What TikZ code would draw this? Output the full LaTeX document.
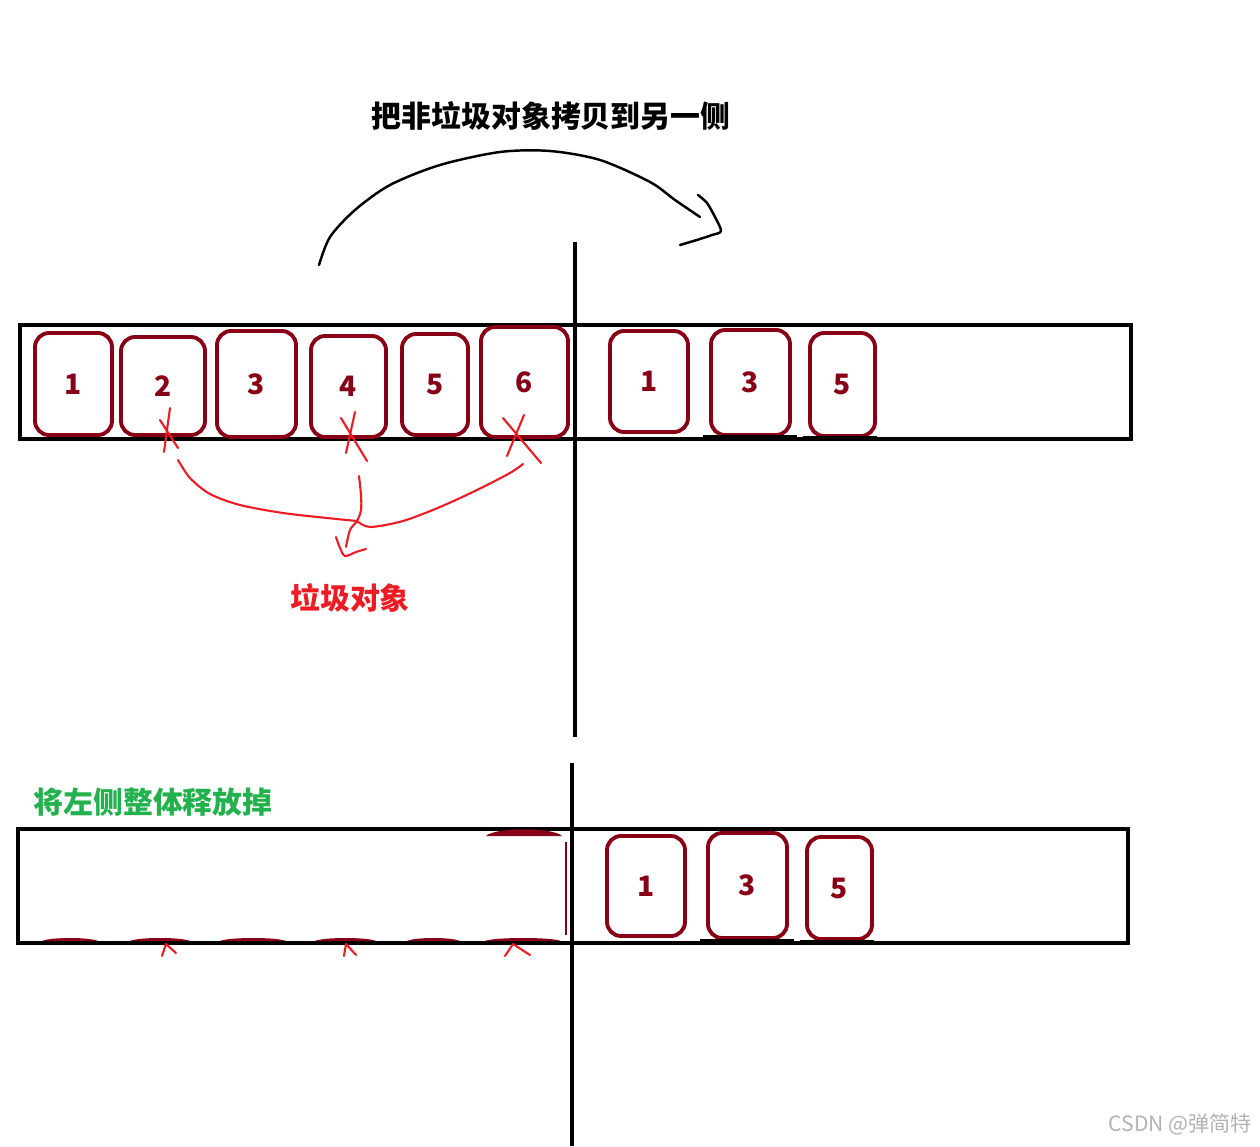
\documentclass[tikz,border=0pt]{standalone}
\usepackage{fontspec}
\newfontfamily\cjk{Noto Sans CJK SC}
\definecolor{paintred}{HTML}{ED1C24}
\definecolor{paintmaroon}{HTML}{880015}
\definecolor{paintgreen}{HTML}{22B14C}
\tikzset{
  objbox/.style={draw=paintmaroon, line width=2.2pt, rounded corners=8pt, inner sep=0pt,
    text=paintmaroon, font=\cjk\bfseries\fontsize{16}{18}\selectfont},
  heapline/.style={line width=2.5pt},
  inkline/.style={line width=1.4pt, line cap=round, line join=round},
  redink/.style={paintred, line width=1.2pt, line cap=round, line join=round},
}
\begin{document}
\begin{tikzpicture}[x=0.02cm,y=-0.02cm]
\useasboundingbox (0,0) rectangle (1260,1146);
% title and copy arrow
\node[font=\cjk\bfseries\fontsize{17}{20}\selectfont] (title) at (551,116) {把非垃圾对象拷贝到另一侧};
\coordinate (cfrom) at (319,265);
\coordinate (cto) at (700,217);
\draw[inkline] plot[smooth] coordinates {(cfrom) (330,237) (355,210) (390,185) (440,165) (500,152) (550,151) (600,160) (650,182) (675,200) (cto)};
\draw[inkline] plot[smooth] coordinates {(698,195) (707,203) (715,217) (721,231) (712,235) (700,239) (680,245)};
% heap before
\draw[heapline] (20,325) rectangle (1131,439);
\foreach \n/\xa/\ya/\xb/\yb in {1/35/333/112/435, 2/121/337/205/435, 3/217/331/296/437,
    4/311/336/386/437, 5/402/334/468/435, 6/481/327/568/437}
  \node[objbox, minimum width={(\xb-\xa)*0.02cm}, minimum height={(\yb-\ya)*0.02cm}]
    (b\n) at ({(\xa+\xb)/2},{(\ya+\yb)/2}) {\n};
\foreach \n/\xa/\ya/\xb/\yb in {1/610/331/688/432, 3/711/330/790/435, 5/810/333/875/436}
  \node[objbox, minimum width={(\xb-\xa)*0.02cm}, minimum height={(\yb-\ya)*0.02cm}]
    (r\n) at ({(\xa+\xb)/2},{(\ya+\yb)/2}) {\n};
\draw[line width=0.6pt] (703,436) -- (797,436);
\draw[line width=0.6pt] (803,437) -- (877,437);
% garbage marks
\draw[redink] (170,408) -- (164,452) (160,420) -- (178,448);
\draw[redink] (355,412) -- (346,453) (341,418) -- (367,461);
\draw[redink] (524,415) -- (507,456) (503,418) -- (541,463);
\coordinate (g2) at (178,460);
\coordinate (g4) at (359,476);
\coordinate (g6) at (523,464);
\coordinate (gm) at (357,521);
\draw[redink] plot[smooth] coordinates {(g2) (190,478) (210,494) (240,505) (283,513) (327,518) (gm)};
\draw[redink] plot[smooth] coordinates {(g6) (510,473) (477,490) (440,507) (403,521) (370,527) (gm)};
\draw[redink] plot[smooth] coordinates {(g4) (361,495) (361,510) (gm) (350,530) (346,547)};
\draw[redink] plot[smooth] coordinates {(336,537) (340,548) (345,556) (356,552) (366,549)};
\node[text=paintred, font=\cjk\bfseries\fontsize{17}{20}\selectfont] (garbage) at (350,598) {垃圾对象};
% heap after
\node[text=paintgreen, font=\cjk\bfseries\fontsize{17}{20}\selectfont] (release) at (153,802) {将左侧整体释放掉};
\draw[heapline] (18,829) rectangle (1128,943);
\foreach \xa/\xb in {42/98, 130/190, 220/286, 315/376, 407/460, 485/561}
  \fill[paintmaroon] (\xa,941) .. controls (\xa+8,937) and (\xb-8,937) .. (\xb,941) -- cycle;
\fill[paintmaroon] (486,836) .. controls (495,827) and (553,827) .. (562,836) -- cycle;
\draw[paintmaroon, line width=0.6pt] (566,842) -- (566,935);
\foreach \n/\xa/\ya/\xb/\yb in {1/607/836/685/936, 3/708/833/787/938, 5/807/837/872/939}
  \node[objbox, minimum width={(\xb-\xa)*0.02cm}, minimum height={(\yb-\ya)*0.02cm}]
    (s\n) at ({(\xa+\xb)/2},{(\ya+\yb)/2}) {\n};
\draw[line width=0.6pt] (700,940) -- (794,940);
\draw[line width=0.6pt] (800,941) -- (874,941);
\draw[redink] (162,956) -- (166,944) -- (176,953);
\draw[redink] (344,956) -- (346,944) -- (356,955);
\draw[redink] (505,956) -- (513,944) -- (530,955);
% divider
\draw[heapline] (575,242) -- (575,737);
\draw[heapline] (572,763) -- (572,1146);
\node[text=black!30, font=\cjk\fontsize{12}{14}\selectfont, anchor=east] (mark) at (1258,1124) {CSDN @弹简特};
\end{tikzpicture}
\end{document}
